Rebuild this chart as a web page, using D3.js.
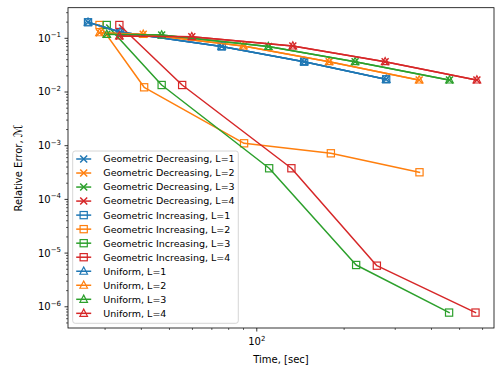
<!DOCTYPE html>
<html>
<head>
<meta charset="utf-8">
<script src="https://cdn.jsdelivr.net/npm/d3@7"></script>
<style>
  body { margin: 0; background: #fff; }
  text { font-family: "DejaVu Sans", sans-serif; }
</style>
</head>
<body>
<div id="chart"></div>
<script>
// values (one row per level L=1..4)
const levels = [1, 2, 3, 4];
const colors = ['#1f77b4', '#ff7f0e', '#2ca02c', '#d62728'];

const timeGeoDec = [
    [26.2, 33.8, 75.7, 145.6, 279.2],
    [28.7, 40.6, 89.9, 177.6, 362.8],
    [30.4, 47.0, 109.6, 218.2, 461.5],
    [33.6, 59.7, 133.1, 276.9, 573.6]
];
const errGeoDec = [
    [0.199, 0.131, 0.0704, 0.0367, 0.01724],
    [0.127, 0.1187, 0.0719, 0.0367, 0.01673],
    [0.1187, 0.1152, 0.0704, 0.0367, 0.01673],
    [0.1104, 0.1071, 0.0719, 0.0367, 0.01673]
];
const timeGeoInc = [
    [26.2, 33.8, 75.7, 145.6, 279.2],
    [28.7, 40.9, 90.4, 180.0, 363.7],
    [30.4, 47.0, 110.3, 220.0, 460.0],
    [33.6, 55.3, 131.6, 259.3, 567.2]
];
const errGeoInc = [
    [0.199, 0.131, 0.0704, 0.0367, 0.01724],
    [0.1769, 0.01224, 0.001109, 0.000722, 0.00032],
    [0.1769, 0.0135, 0.00038, 6.0e-6, 7.8e-7],
    [0.1769, 0.0135, 0.00038, 5.83e-6, 7.8e-7]
];
const timeUniform = timeGeoDec;
const errUniform = errGeoDec;

const schemes = [
    { name: 'Geometric Decreasing', marker: 'x', time: timeGeoDec, err: errGeoDec },
    { name: 'Geometric Increasing', marker: 's', time: timeGeoInc, err: errGeoInc },
    { name: 'Uniform', marker: '^', time: timeUniform, err: errUniform }
];

const yTickValues = [1e-6, 1e-5, 1e-4, 1e-3, 1e-2, 1e-1];
const xTickValues = [100];

const width = 496, height = 370;
const margin = { top: 7.7, right: 2, bottom: 42, left: 68 };
const innerW = width - margin.left - margin.right;
const innerH = height - margin.top - margin.bottom;

const svg = d3.select('#chart').append('svg')
    .attr('width', width)
    .attr('height', height);

svg.append('rect').attr('width', width).attr('height', height).attr('fill', '#fff');

const chart = svg.append('g')
    .attr('transform', `translate(${margin.left}, ${margin.top})`);

const xScale = d3.scaleLog().domain([22.35, 657]).range([0, innerW]);
const yScale = d3.scaleLog().domain([Math.pow(10, -6.395), Math.pow(10, -0.43)]).range([innerH, 0]);

// minor ticks
const minorX = [];
[10, 100].forEach(d => { for (let k = 2; k <= 9; k++) minorX.push(d * k); });
const minorY = [];
[1e-7, 1e-6, 1e-5, 1e-4, 1e-3, 1e-2, 1e-1].forEach(d => { for (let k = 2; k <= 9; k++) minorY.push(d * k); });

function inX(v) { return v >= xScale.domain()[0] && v <= xScale.domain()[1]; }
function inY(v) { return v >= yScale.domain()[0] && v <= yScale.domain()[1]; }

const fmtPow = d => Math.round(Math.log10(d));

// x axis
const xAxis = chart.append('g').attr('transform', `translate(0, ${innerH})`);
xAxis.selectAll('.minor').data(minorX.filter(inX)).enter().append('line')
    .attr('x1', d => xScale(d)).attr('x2', d => xScale(d))
    .attr('y1', 0).attr('y2', 2).attr('stroke', '#000').attr('stroke-width', 0.6);
xAxis.selectAll('.major').data(xTickValues).enter().append('line')
    .attr('x1', d => xScale(d)).attr('x2', d => xScale(d))
    .attr('y1', 0).attr('y2', 3.5).attr('stroke', '#000').attr('stroke-width', 0.8);
const xLab = xAxis.selectAll('.lab').data(xTickValues).enter().append('text')
    .attr('x', d => xScale(d)).attr('y', 17)
    .attr('text-anchor', 'middle').attr('font-size', 10).attr('fill', '#000');
xLab.append('tspan').text('10');
xLab.append('tspan').attr('dy', -4.5).attr('font-size', 7).text(d => fmtPow(d));

// y axis
const yAxis = chart.append('g');
yAxis.selectAll('.minor').data(minorY.filter(inY)).enter().append('line')
    .attr('y1', d => yScale(d)).attr('y2', d => yScale(d))
    .attr('x1', 0).attr('x2', -2).attr('stroke', '#000').attr('stroke-width', 0.6);
yAxis.selectAll('.major').data(yTickValues).enter().append('line')
    .attr('y1', d => yScale(d)).attr('y2', d => yScale(d))
    .attr('x1', 0).attr('x2', -3.5).attr('stroke', '#000').attr('stroke-width', 0.8);
const yLab = yAxis.selectAll('.lab').data(yTickValues).enter().append('text')
    .attr('x', -7).attr('y', d => yScale(d) + 3.5)
    .attr('text-anchor', 'end').attr('font-size', 10).attr('fill', '#000');
yLab.append('tspan').text('10');
yLab.append('tspan').attr('dy', -4.5).attr('font-size', 7).text(d => '\u2212' + Math.abs(fmtPow(d)));

// axis labels
svg.append('text')
    .attr('x', margin.left + innerW / 2).attr('y', height - 7)
    .attr('text-anchor', 'middle').attr('font-size', 10).text('Time, [sec]');
const yTitle = svg.append('text')
    .attr('transform', `translate(22, ${margin.top + innerH / 2}) rotate(-90)`)
    .attr('text-anchor', 'middle').attr('font-size', 10);
yTitle.append('tspan').text('Relative Error, ');
yTitle.append('tspan').attr('font-style', 'italic').attr('font-size', 12).text('\u2133');

// markers
function drawMarker(g, type, color) {
    if (type === 'x') {
        g.append('path').attr('d', 'M-3.5,-3.5L3.5,3.5M-3.5,3.5L3.5,-3.5')
            .attr('stroke', color).attr('stroke-width', 1.5).attr('fill', 'none');
    } else if (type === 's') {
        g.append('rect').attr('x', -3.6).attr('y', -3.6).attr('width', 7.2).attr('height', 7.2)
            .attr('stroke', color).attr('stroke-width', 1.2).attr('fill', 'none');
    } else {
        g.append('path').attr('d', 'M0,-4.2L3.8,3L-3.8,3Z')
            .attr('stroke', color).attr('stroke-width', 1.2).attr('fill', 'none');
    }
}

const lineGenerator = d3.line()
    .x(d => xScale(d[0]))
    .y(d => yScale(d[1]));

const plot = chart.append('g');
schemes.forEach(s => {
    levels.forEach((L, i) => {
        const pts = s.time[i].map((t, j) => [t, s.err[i][j]]);
        plot.append('path')
            .datum(pts)
            .attr('fill', 'none')
            .attr('stroke', colors[i])
            .attr('stroke-width', 1.5)
            .attr('stroke-linejoin', 'round')
            .attr('stroke-linecap', 'square')
            .attr('d', lineGenerator);
        pts.forEach(p => {
            const g = plot.append('g').attr('transform', `translate(${xScale(p[0])}, ${yScale(p[1])})`);
            drawMarker(g, s.marker, colors[i]);
        });
    });
});

// frame
chart.append('rect').attr('width', innerW).attr('height', innerH)
    .attr('fill', 'none').attr('stroke', '#000').attr('stroke-width', 0.8);

// legend
const entries = [];
schemes.forEach(s => levels.forEach((L, i) => entries.push({ label: `${s.name}, L=${L}`, marker: s.marker, color: colors[i] })));

const legend = svg.append('g').attr('transform', 'translate(72.7, 151)');
legend.append('rect').attr('width', 165.6).attr('height', 172.3).attr('rx', 2.5)
    .attr('fill', '#fff').attr('fill-opacity', 0.8)
    .attr('stroke', '#cccccc').attr('stroke-width', 0.8);
entries.forEach((e, k) => {
    const row = legend.append('g').attr('transform', `translate(0, ${8 + k * 14.03})`);
    row.append('line').attr('x1', 3.5).attr('x2', 18.5).attr('y1', 0).attr('y2', 0)
        .attr('stroke', e.color).attr('stroke-width', 1.5);
    const m = row.append('g').attr('transform', 'translate(11, 0)');
    drawMarker(m, e.marker, e.color);
    row.append('text').attr('x', 30.6).attr('y', 3.4)
        .attr('font-size', 9.5).attr('fill', '#000').text(e.label);
});
</script>
</body>
</html>
